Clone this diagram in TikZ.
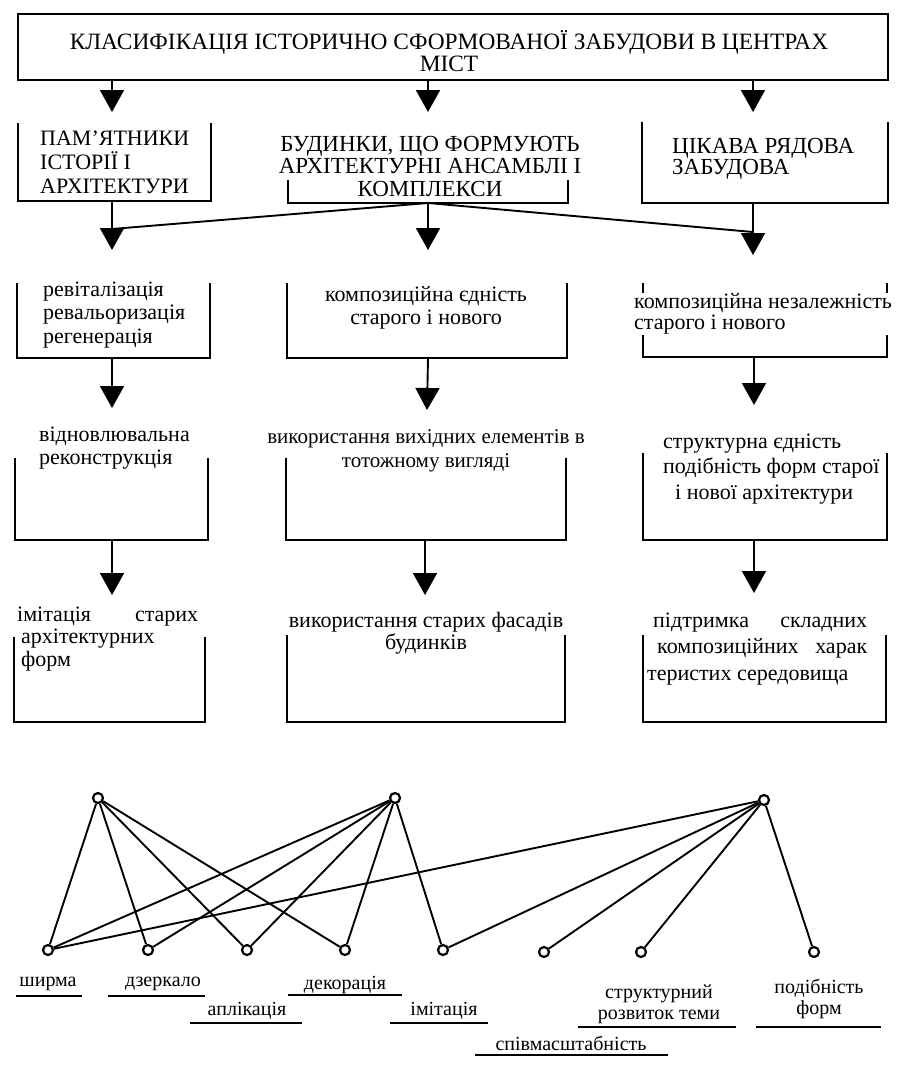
\documentclass[tikz,border=0pt]{standalone}
\usepackage{fontspec}
\setmainfont{Liberation Serif}
\usetikzlibrary{arrows.meta,fit}
\begin{document}
\begin{tikzpicture}[x=1pt,y=-1pt,
  boxline/.style={line width=1.9pt},
  arr/.style={line width=1.9pt,-{Triangle[width=24pt,length=22pt]}},
  link/.style={line width=1.9pt},
  frame/.style={inner sep=0pt,outer sep=0pt},
  txt/.style={inner sep=0pt,font=\fontsize{22}{23}\selectfont},
  lbl/.style={inner sep=0pt,font=\fontsize{20}{21}\selectfont,align=center},
  dot/.style={circle,draw,line width=2.2pt,minimum size=10pt,inner sep=0pt,fill=white},
  uline/.style={line width=1.7pt}
]
\useasboundingbox[fill=white] (0,0) rectangle (906,1073);

% ---------- frames ----------
\node[frame,fit={(18,14) (888,80)}] (T) {};
\node[frame,fit={(18,123) (211,201)}] (P1) {};
\node[frame,fit={(288,180) (568,203)}] (P2) {};
\node[frame,fit={(642,122) (888,203)}] (P3) {};
\node[frame,fit={(17,283) (210,358)}] (R1) {};
\node[frame,fit={(287,283) (567,358)}] (R2) {};
\node[frame,fit={(643,283) (887,357)}] (R3) {};
\node[frame,fit={(15,458) (208,540)}] (Q1) {};
\node[frame,fit={(286,458) (566,540)}] (Q2) {};
\node[frame,fit={(643,453) (887,540)}] (Q3) {};
\node[frame,fit={(14,637) (205,722)}] (S1) {};
\node[frame,fit={(287,635) (565,722)}] (S2) {};
\node[frame,fit={(643,635) (886,722)}] (S3) {};

\draw[boxline] (T.north west) rectangle (T.south east);
\foreach \b in {P1,P2,P3,R1,R2,R3,Q1,Q2,Q3,S1,S2,S3}
  \draw[boxline] (\b.north west) -- (\b.south west) -- (\b.south east) -- (\b.north east);

% ---------- texts ----------
\node[txt,align=center,font=\fontsize{23.4}{22}\selectfont] (Tt) at (449,51) {КЛАСИФІКАЦІЯ ІСТОРИЧНО СФОРМОВАНОЇ ЗАБУДОВИ В ЦЕНТРАХ\\МІСТ};
\node[txt,align=left,anchor=west,font=\fontsize{22}{24}\selectfont] (P1t) at (40,162) {ПАМ'ЯТНИКИ\\ІСТОРІЇ І\\АРХІТЕКТУРИ};
\node[txt,align=center,font=\fontsize{23}{22.5}\selectfont] (P2t) at (430,166) {БУДИНКИ, ЩО ФОРМУЮТЬ\\АРХІТЕКТУРНІ АНСАМБЛІ І\\КОМПЛЕКСИ};
\node[txt,align=left,anchor=west,font=\fontsize{23}{20}\selectfont] (P3t) at (672,159) {ЦІКАВА РЯДОВА\\ЗАБУДОВА};

\node[txt,align=left,anchor=west,font=\fontsize{22}{23.5}\selectfont] (R1t) at (43,315) {ревіталізація\\ревальоризація\\регенерація};
\node[txt,align=center] (R2t) at (426,308) {композиційна єдність\\старого і нового};
\node[txt,align=left,anchor=west,fill=white,inner ysep=1pt,font=\fontsize{22}{21}\selectfont] (R3t) at (634,314) {композиційна незалежність\\старого і нового};

\node[txt,align=left,anchor=west] (Q1t) at (39,448) {відновлювальна\\реконструкція};
\node[txt,align=center,font=\fontsize{21}{24}\selectfont] (Q2t) at (426,451) {використання вихідних елементів в\\тотожному вигляді};
\node[txt,align=left,anchor=west,font=\fontsize{22}{25.5}\selectfont] (Q3t) at (663,469) {структурна єдність\\подібність форм старої\\\hspace*{12pt}і нової архітектури};

\node[txt,align=left,anchor=west,font=\fontsize{22}{22.5}\selectfont] (S1t) at (17,639) {\hbox to 181pt{імітація\hfill старих}\\\hspace*{4pt}архітектурних\\\hspace*{4pt}форм};
\node[txt,align=center,font=\fontsize{22}{22}\selectfont] (S2t) at (426,633) {використання старих фасадів\\будинків};
\node[txt,align=left,anchor=west,font=\fontsize{22}{26.5}\selectfont] (S3t) at (647,649) {\hspace*{6pt}\hbox to 214pt{підтримка\hfill складних}\\\hspace*{10pt}\hbox to 210pt{композиційних\hfill харак}\\теристих середовища};

% ---------- arrows ----------
\coordinate (c1) at (112,0);
\coordinate (c2) at (428,0);
\coordinate (c3) at (753,0);
\coordinate (c2b) at (425,0);
\coordinate (c3b) at (754,0);
\coordinate (a1) at (112,112);
\coordinate (a2) at (428,112);
\coordinate (a3) at (753,112);
\coordinate (b1t) at (112,250);
\coordinate (b2t) at (428,250);
\coordinate (b3t) at (753,255);
\coordinate (j1) at (112,229);
\coordinate (j3) at (753,232);
\coordinate (d1) at (112,408);
\coordinate (d2) at (427,410);
\coordinate (d3) at (754,405);
\coordinate (e1) at (112,595);
\coordinate (e2) at (425,595);
\coordinate (e3) at (754,593);

\draw[arr] (T.south -| c1) -- (a1);
\draw[arr] (T.south -| c2) -- (a2);
\draw[arr] (T.south -| c3) -- (a3);

\draw[arr] (P1.south -| c1) -- (b1t);
\draw[arr] (P2.south -| c2) -- (b2t);
\draw[arr] (P3.south -| c3) -- (b3t);
\draw[link] (P2.south -| c2) -- (j1);
\draw[link] (P2.south -| c2) -- (j3);

\draw[arr] (R1.south -| c1) -- (d1);
\draw[arr] (R2.south -| c2) -- (d2);
\draw[arr] (R3.south -| c3b) -- (d3);

\draw[arr] (Q1.south -| c1) -- (e1);
\draw[arr] (Q2.south -| c2b) -- (e2);
\draw[arr] (Q3.south -| c3b) -- (e3);

% ---------- bottom graph ----------
\node[dot] (A) at (98,798) {};
\node[dot] (B) at (395,798) {};
\node[dot] (C) at (764,800) {};
\node[dot] (n1) at (48,950) {};
\node[dot] (n2) at (148,950) {};
\node[dot] (n3) at (247,950) {};
\node[dot] (n4) at (345,950) {};
\node[dot] (n5) at (443,950) {};
\node[dot] (n6) at (544,952) {};
\node[dot] (n7) at (641,952) {};
\node[dot] (n8) at (814,952) {};

\foreach \t in {n1,n2,n3,n4} \draw[link] (A) -- (\t);
\foreach \t in {n1,n2,n3,n4,n5} \draw[link] (B) -- (\t);
\foreach \t in {n1,n5,n6,n7,n8} \draw[link] (C) -- (\t);

\node[lbl] (l1) at (48,984) {ширма};
\node[lbl] (l2) at (163,984) {дзеркало};
\node[lbl] (l3) at (247,1011) {аплікація};
\node[lbl] (l4) at (345,985) {декорація};
\node[lbl] (l5) at (444,1011) {імітація};
\node[lbl] (l6) at (571,1043) {співмасштабність};
\node[lbl] (l7) at (659,1004) {структурний\\розвиток теми};
\node[lbl] (l8) at (819,999) {подібність\\форм};

\draw[uline] (16,996) -- (82,996);
\draw[uline] (108,996) -- (205,996);
\draw[uline] (190,1023) -- (302,1023);
\draw[uline] (288,995) -- (402,995);
\draw[uline] (390,1023) -- (488,1023);
\draw[uline] (475,1055) -- (668,1055);
\draw[uline] (578,1027) -- (736,1027);
\draw[uline] (756,1027) -- (881,1027);
\end{tikzpicture}
\end{document}
